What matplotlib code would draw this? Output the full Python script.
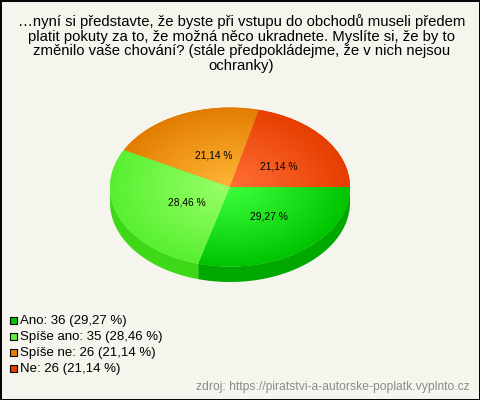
import numpy as np
import matplotlib
matplotlib.use("Agg")
import matplotlib.pyplot as plt
from matplotlib.patches import Rectangle

categories = ["Ano", "Spíše ano", "Spíše ne", "Ne"]
counts = [36, 35, 26, 26]
percent_labels = ["29,27 %", "28,46 %", "21,14 %", "21,14 %"]
center_colors = ["#3cff3c", "#98ff68", "#ffb435", "#ff6e35"]
edge_colors = ["#00c400", "#58f030", "#e27c00", "#e63e00"]
side_colors = ["#00a800", "#3fd818", "#b86400", "#b83000"]
legend_colors = ["#00c400", "#5cf038", "#e67e00", "#e64000"]
title = ("…nyní si představte, že byste při vstupu do obchodů museli předem\n"
         "platit pokuty za to, že možná něco ukradnete. Myslíte si, že by to\n"
         "změnilo vaše chování? (stále předpokládejme, že v nich nejsou\n"
         "ochranky)")
source = "zdroj: https://piratstvi-a-autorske-poplatk.vyplnto.cz"

W, H = 480, 400
BG = "#f5f5ee"
plt.rcParams["font.family"] = ["Liberation Sans", "DejaVu Sans"]
fig = plt.figure(figsize=(W / 100, H / 100), dpi=100, facecolor=BG)

# pixel-space overlay
ov = fig.add_axes([0, 0, 1, 1], zorder=3)
ov.set_xlim(0, W); ov.set_ylim(H, 0); ov.axis("off")
ov.add_patch(Rectangle((0.5, 0.5), W - 1, H - 1, fill=False, ec="black", lw=1.4))

# pie axes: data range maps onto the ellipse box
cx, cy, rx, ry, depth = 230, 187, 120, 79.5, 15.5
ytop, ybot = 1.02, -1.0 - depth / ry - 0.03
ax = fig.add_axes([(cx - rx) / W, 1 - (cy - ybot * ry) / H,
                   2 * rx / W, (ytop - ybot) * ry / H], zorder=1)
ax.set_facecolor("none")

wedges, _ = ax.pie(counts, startangle=0, counterclock=False, radius=1,
                   wedgeprops=dict(linewidth=0))
ax.set_aspect("auto")

fractions = np.array(counts) / sum(counts)
ends = np.cumsum(fractions) * 360
starts = ends - fractions * 360

yy, xx = np.mgrid[1.05:-1.05:400j, -1.05:1.05:400j]
rr = np.clip(np.hypot(xx, yy), 0, 1)[..., None] ** 1.1

for i, w in enumerate(wedges):
    # extruded side: only the part of each slice facing the viewer
    a0, a1 = starts[i], min(ends[i], 180)
    if a0 < 180:
        t = np.radians(-np.linspace(a0, a1, 80))
        d = depth / ry
        xs = np.r_[np.cos(t), np.cos(t)[::-1]]
        ys = np.r_[np.sin(t), np.sin(t)[::-1] - d]
        ax.fill(xs, ys, color=side_colors[i], lw=0, zorder=1)
    # radial gradient on the top face, clipped to the wedge
    c0 = np.array(matplotlib.colors.to_rgb(center_colors[i]))
    c1 = np.array(matplotlib.colors.to_rgb(edge_colors[i]))
    img = c0 * (1 - rr) + c1 * rr
    im = ax.imshow(img, extent=(-1.05, 1.05, -1.05, 1.05), aspect="auto",
                   zorder=2, interpolation="bilinear")
    w.set_zorder(2)
    w.set_facecolor(edge_colors[i])
    im.set_clip_path(w)
    mid = np.radians(-(starts[i] + ends[i]) / 2)
    ax.text(0.45 * np.cos(mid) + 0.05, 0.45 * np.sin(mid) - 0.015, percent_labels[i],
            ha="center", va="center", fontsize=7.4, color="black", zorder=4)

ax.set_xlim(-1, 1)
ax.set_ylim(ybot, ytop)
ax.axis("off")

# title
ov.text(241.5, 43.5, title, ha="center", va="center", fontsize=10.7,
        linespacing=1.04, color="black", multialignment="center")

# legend
for i, cat in enumerate(categories):
    y = 320 + i * 16.1
    ov.add_patch(Rectangle((9.5, y - 3.5), 7, 7, fc=legend_colors[i], ec="black", lw=0.8))
    ov.text(20, y + 1, f"{cat}: {counts[i]} ({percent_labels[i]})", ha="left", va="center",
            fontsize=9.5, color="black")

ov.text(470, 387, source, ha="right", va="center", fontsize=8.7, color="#8c8c8c")

fig.savefig("out.png", dpi=100, facecolor=BG)
